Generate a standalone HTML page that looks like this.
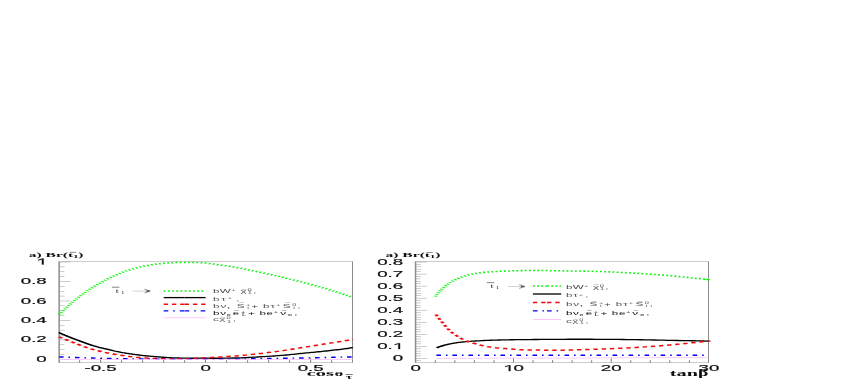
<!DOCTYPE html>
<html><head><meta charset="utf-8"><title>Branching ratios</title>
<style>html,body{margin:0;padding:0;background:#fff;}body{width:850px;height:382px;overflow:hidden;font-family:"Liberation Sans",sans-serif;}svg{display:block;}</style>
</head><body>
<svg width="850" height="382" viewBox="0 0 850 382">
<rect x="0" y="0" width="850" height="382" fill="#ffffff"/>
<defs><filter id="soft" x="0" y="230" width="850" height="152" filterUnits="userSpaceOnUse"><feGaussianBlur stdDeviation="0.42"/></filter></defs>
<g filter="url(#soft)">
<g transform="scale(2.2,1)">
<line x1="26.89" y1="261.30" x2="26.89" y2="362.80" stroke="#8c8c8c" stroke-width="0.68"/>
<line x1="160.23" y1="261.30" x2="160.23" y2="362.80" stroke="#505050" stroke-width="0.42"/>
<line x1="26.82" y1="261.60" x2="160.32" y2="261.60" stroke="#bdbdbd" stroke-width="0.8"/>
<line x1="26.82" y1="362.50" x2="160.32" y2="362.50" stroke="#999999" stroke-width="0.65"/>
<line x1="26.82" y1="359.40" x2="32.05" y2="359.40" stroke="#9a9a9a" stroke-width="0.5"/>
<line x1="26.82" y1="354.53" x2="29.32" y2="354.53" stroke="#9a9a9a" stroke-width="0.5"/>
<line x1="26.82" y1="349.66" x2="29.32" y2="349.66" stroke="#9a9a9a" stroke-width="0.5"/>
<line x1="26.82" y1="344.79" x2="29.32" y2="344.79" stroke="#9a9a9a" stroke-width="0.5"/>
<line x1="26.82" y1="339.92" x2="32.05" y2="339.92" stroke="#9a9a9a" stroke-width="0.5"/>
<line x1="26.82" y1="335.05" x2="29.32" y2="335.05" stroke="#9a9a9a" stroke-width="0.5"/>
<line x1="26.82" y1="330.18" x2="29.32" y2="330.18" stroke="#9a9a9a" stroke-width="0.5"/>
<line x1="26.82" y1="325.31" x2="29.32" y2="325.31" stroke="#9a9a9a" stroke-width="0.5"/>
<line x1="26.82" y1="320.44" x2="32.05" y2="320.44" stroke="#9a9a9a" stroke-width="0.5"/>
<line x1="26.82" y1="315.57" x2="29.32" y2="315.57" stroke="#9a9a9a" stroke-width="0.5"/>
<line x1="26.82" y1="310.70" x2="29.32" y2="310.70" stroke="#9a9a9a" stroke-width="0.5"/>
<line x1="26.82" y1="305.83" x2="29.32" y2="305.83" stroke="#9a9a9a" stroke-width="0.5"/>
<line x1="26.82" y1="300.96" x2="32.05" y2="300.96" stroke="#9a9a9a" stroke-width="0.5"/>
<line x1="26.82" y1="296.09" x2="29.32" y2="296.09" stroke="#9a9a9a" stroke-width="0.5"/>
<line x1="26.82" y1="291.22" x2="29.32" y2="291.22" stroke="#9a9a9a" stroke-width="0.5"/>
<line x1="26.82" y1="286.35" x2="29.32" y2="286.35" stroke="#9a9a9a" stroke-width="0.5"/>
<line x1="26.82" y1="281.48" x2="32.05" y2="281.48" stroke="#9a9a9a" stroke-width="0.5"/>
<line x1="26.82" y1="276.61" x2="29.32" y2="276.61" stroke="#9a9a9a" stroke-width="0.5"/>
<line x1="26.82" y1="271.74" x2="29.32" y2="271.74" stroke="#9a9a9a" stroke-width="0.5"/>
<line x1="26.82" y1="266.87" x2="29.32" y2="266.87" stroke="#9a9a9a" stroke-width="0.5"/>
<line x1="26.82" y1="262.00" x2="32.05" y2="262.00" stroke="#9a9a9a" stroke-width="0.5"/>
<line x1="36.18" y1="362.50" x2="36.18" y2="360.20" stroke="#3c3c3c" stroke-width="0.42"/>
<line x1="45.73" y1="362.50" x2="45.73" y2="358.10" stroke="#3c3c3c" stroke-width="0.42"/>
<line x1="55.27" y1="362.50" x2="55.27" y2="360.20" stroke="#3c3c3c" stroke-width="0.42"/>
<line x1="64.82" y1="362.50" x2="64.82" y2="360.20" stroke="#3c3c3c" stroke-width="0.42"/>
<line x1="74.36" y1="362.50" x2="74.36" y2="360.20" stroke="#3c3c3c" stroke-width="0.42"/>
<line x1="83.91" y1="362.50" x2="83.91" y2="360.20" stroke="#3c3c3c" stroke-width="0.42"/>
<line x1="93.45" y1="362.50" x2="93.45" y2="358.10" stroke="#3c3c3c" stroke-width="0.42"/>
<line x1="103.00" y1="362.50" x2="103.00" y2="360.20" stroke="#3c3c3c" stroke-width="0.42"/>
<line x1="112.55" y1="362.50" x2="112.55" y2="360.20" stroke="#3c3c3c" stroke-width="0.42"/>
<line x1="122.09" y1="362.50" x2="122.09" y2="360.20" stroke="#3c3c3c" stroke-width="0.42"/>
<line x1="131.64" y1="362.50" x2="131.64" y2="360.20" stroke="#3c3c3c" stroke-width="0.42"/>
<line x1="141.18" y1="362.50" x2="141.18" y2="358.10" stroke="#3c3c3c" stroke-width="0.42"/>
<line x1="150.73" y1="362.50" x2="150.73" y2="360.20" stroke="#3c3c3c" stroke-width="0.42"/>
<path d="M19.05 264.55 L19.84 264.55 L19.84 258.61 L19.21 258.61 L17.40 259.78 L17.40 260.52 L19.05 259.47 Z" fill="#111" stroke="#111" stroke-width="0.15"/>
<text transform="translate(21.23 284.03) scale(1.0227 1)" font-size="8.3" text-anchor="end" font-family="Liberation Sans, sans-serif" fill="#111111" font-weight="normal" stroke="#111" stroke-width="0.18">0.8</text>
<text transform="translate(21.23 303.51) scale(1.0227 1)" font-size="8.3" text-anchor="end" font-family="Liberation Sans, sans-serif" fill="#111111" font-weight="normal" stroke="#111" stroke-width="0.18">0.6</text>
<text transform="translate(21.23 322.99) scale(1.0227 1)" font-size="8.3" text-anchor="end" font-family="Liberation Sans, sans-serif" fill="#111111" font-weight="normal" stroke="#111" stroke-width="0.18">0.4</text>
<text transform="translate(21.23 342.47) scale(1.0227 1)" font-size="8.3" text-anchor="end" font-family="Liberation Sans, sans-serif" fill="#111111" font-weight="normal" stroke="#111" stroke-width="0.18">0.2</text>
<text transform="translate(21.23 361.95) scale(1.0227 1)" font-size="8.3" text-anchor="end" font-family="Liberation Sans, sans-serif" fill="#111111" font-weight="normal" stroke="#111" stroke-width="0.18">0</text>
<text transform="translate(45.73 371.10) scale(1.0227 1)" font-size="8.3" text-anchor="middle" font-family="Liberation Sans, sans-serif" fill="#111111" font-weight="normal" stroke="#111" stroke-width="0.18">-0.5</text>
<text transform="translate(93.45 371.10) scale(1.0227 1)" font-size="8.3" text-anchor="middle" font-family="Liberation Sans, sans-serif" fill="#111111" font-weight="normal" stroke="#111" stroke-width="0.18">0</text>
<text transform="translate(141.18 371.10) scale(1.0227 1)" font-size="8.3" text-anchor="middle" font-family="Liberation Sans, sans-serif" fill="#111111" font-weight="normal" stroke="#111" stroke-width="0.18">0.5</text>
<path d="M26.77 314.50 L26.93 314.19 L27.13 313.79 L27.37 313.33 L27.64 312.80 L27.94 312.21 L28.27 311.56 L28.62 310.85 L29.00 310.10 L29.41 309.27 L29.87 308.33 L30.37 307.32 L30.89 306.26 L31.42 305.18 L31.96 304.11 L32.49 303.08 L33.00 302.10 L33.50 301.17 L34.01 300.26 L34.52 299.37 L35.02 298.49 L35.53 297.62 L36.04 296.77 L36.54 295.93 L37.05 295.10 L37.55 294.28 L38.05 293.47 L38.55 292.68 L39.05 291.89 L39.55 291.12 L40.05 290.37 L40.55 289.63 L41.05 288.90 L41.55 288.19 L42.05 287.50 L42.55 286.82 L43.05 286.16 L43.55 285.51 L44.05 284.87 L44.55 284.23 L45.05 283.60 L45.55 282.97 L46.04 282.35 L46.54 281.73 L47.04 281.12 L47.54 280.52 L48.04 279.93 L48.54 279.36 L49.05 278.80 L49.55 278.26 L50.05 277.73 L50.56 277.22 L51.07 276.73 L51.58 276.24 L52.08 275.75 L52.59 275.28 L53.09 274.80 L53.59 274.32 L54.09 273.85 L54.59 273.38 L55.09 272.91 L55.59 272.46 L56.09 272.02 L56.59 271.60 L57.09 271.20 L57.59 270.83 L58.09 270.47 L58.59 270.14 L59.09 269.82 L59.59 269.51 L60.09 269.21 L60.59 268.90 L61.09 268.60 L61.59 268.29 L62.09 267.99 L62.59 267.68 L63.09 267.39 L63.59 267.10 L64.09 266.82 L64.59 266.55 L65.09 266.30 L65.59 266.06 L66.10 265.84 L66.61 265.62 L67.11 265.42 L67.62 265.23 L68.13 265.04 L68.63 264.87 L69.14 264.70 L69.64 264.54 L70.14 264.39 L70.64 264.25 L71.14 264.12 L71.64 264.00 L72.14 263.88 L72.64 263.76 L73.14 263.65 L73.64 263.54 L74.14 263.43 L74.64 263.33 L75.14 263.23 L75.64 263.14 L76.14 263.06 L76.64 262.97 L77.14 262.90 L77.64 262.83 L78.14 262.77 L78.64 262.71 L79.14 262.66 L79.64 262.61 L80.14 262.57 L80.64 262.53 L81.14 262.50 L81.64 262.47 L82.14 262.45 L82.63 262.43 L83.13 262.42 L83.63 262.41 L84.13 262.40 L84.63 262.40 L85.14 262.40 L85.64 262.40 L86.15 262.40 L86.65 262.41 L87.16 262.41 L87.67 262.42 L88.17 262.44 L88.68 262.47 L89.18 262.50 L89.68 262.54 L90.19 262.58 L90.69 262.63 L91.18 262.69 L91.68 262.75 L92.18 262.82 L92.68 262.91 L93.18 263.00 L93.68 263.11 L94.18 263.23 L94.68 263.36 L95.18 263.51 L95.68 263.65 L96.18 263.80 L96.68 263.95 L97.18 264.10 L97.68 264.24 L98.18 264.39 L98.68 264.54 L99.18 264.68 L99.68 264.83 L100.18 264.99 L100.68 265.14 L101.18 265.30 L101.69 265.46 L102.19 265.62 L102.70 265.79 L103.20 265.95 L103.71 266.12 L104.22 266.29 L104.72 266.47 L105.23 266.65 L105.73 266.83 L106.23 267.02 L106.73 267.21 L107.23 267.40 L107.73 267.59 L108.23 267.79 L108.73 267.99 L109.23 268.20 L109.73 268.41 L110.23 268.63 L110.73 268.86 L111.23 269.08 L111.73 269.31 L112.23 269.54 L112.73 269.77 L113.23 270.00 L113.73 270.22 L114.23 270.45 L114.73 270.67 L115.22 270.89 L115.72 271.12 L116.22 271.34 L116.73 271.57 L117.23 271.80 L117.73 272.03 L118.24 272.27 L118.74 272.50 L119.25 272.74 L119.76 272.98 L120.26 273.22 L120.77 273.46 L121.27 273.70 L121.77 273.94 L122.28 274.18 L122.78 274.42 L123.28 274.66 L123.77 274.90 L124.27 275.15 L124.77 275.40 L125.27 275.65 L125.77 275.91 L126.27 276.17 L126.77 276.44 L127.27 276.72 L127.77 276.99 L128.27 277.26 L128.77 277.53 L129.27 277.80 L129.77 278.06 L130.27 278.32 L130.77 278.58 L131.27 278.84 L131.77 279.10 L132.27 279.36 L132.77 279.63 L133.27 279.90 L133.78 280.18 L134.28 280.46 L134.79 280.75 L135.30 281.04 L135.80 281.33 L136.31 281.62 L136.81 281.91 L137.32 282.20 L137.82 282.49 L138.32 282.77 L138.82 283.06 L139.32 283.34 L139.82 283.63 L140.32 283.92 L140.82 284.21 L141.32 284.50 L141.82 284.79 L142.32 285.09 L142.82 285.39 L143.32 285.69 L143.82 285.99 L144.32 286.29 L144.82 286.59 L145.32 286.90 L145.82 287.21 L146.32 287.51 L146.82 287.82 L147.32 288.12 L147.82 288.44 L148.32 288.75 L148.82 289.07 L149.32 289.40 L149.82 289.73 L150.32 290.08 L150.82 290.42 L151.32 290.77 L151.81 291.13 L152.31 291.49 L152.82 291.84 L153.32 292.20 L153.83 292.56 L154.36 292.94 L154.89 293.32 L155.42 293.69 L155.94 294.07 L156.44 294.43 L156.92 294.78 L157.36 295.10 L157.79 295.42 L158.21 295.73 L158.62 296.04 L159.00 296.33 L159.36 296.60 L159.67 296.84 L159.93 297.04 L160.14 297.20" fill="none" stroke="#0cf50c" stroke-width="1.55" stroke-dasharray="0.85 1.05"/>
<path d="M26.77 332.60 L27.01 332.82 L27.32 333.12 L27.69 333.48 L28.10 333.87 L28.53 334.29 L28.98 334.71 L29.41 335.11 L29.82 335.49 L30.20 335.84 L30.58 336.18 L30.96 336.52 L31.35 336.85 L31.74 337.19 L32.14 337.54 L32.56 337.90 L33.00 338.27 L33.46 338.67 L33.95 339.08 L34.46 339.50 L34.97 339.93 L35.49 340.36 L36.02 340.79 L36.54 341.21 L37.05 341.62 L37.55 342.03 L38.05 342.44 L38.55 342.85 L39.05 343.25 L39.55 343.64 L40.05 344.03 L40.55 344.41 L41.05 344.77 L41.55 345.12 L42.05 345.46 L42.55 345.80 L43.05 346.12 L43.55 346.44 L44.05 346.74 L44.55 347.04 L45.05 347.34 L45.55 347.62 L46.04 347.89 L46.54 348.15 L47.04 348.40 L47.54 348.65 L48.04 348.90 L48.54 349.15 L49.05 349.40 L49.55 349.66 L50.05 349.93 L50.56 350.19 L51.07 350.46 L51.58 350.72 L52.08 350.98 L52.59 351.23 L53.09 351.47 L53.59 351.70 L54.09 351.93 L54.59 352.14 L55.09 352.36 L55.59 352.56 L56.09 352.76 L56.59 352.95 L57.09 353.14 L57.59 353.32 L58.09 353.49 L58.59 353.65 L59.09 353.81 L59.59 353.96 L60.09 354.11 L60.59 354.26 L61.09 354.41 L61.59 354.56 L62.09 354.71 L62.59 354.85 L63.09 355.00 L63.59 355.14 L64.09 355.28 L64.59 355.41 L65.09 355.54 L65.59 355.66 L66.10 355.77 L66.61 355.88 L67.11 355.98 L67.62 356.08 L68.13 356.18 L68.63 356.28 L69.14 356.38 L69.64 356.47 L70.14 356.57 L70.64 356.66 L71.14 356.75 L71.64 356.84 L72.14 356.93 L72.64 357.02 L73.14 357.10 L73.64 357.18 L74.14 357.27 L74.64 357.35 L75.14 357.43 L75.64 357.50 L76.14 357.57 L76.64 357.64 L77.14 357.70 L77.64 357.75 L78.14 357.80 L78.64 357.84 L79.14 357.87 L79.64 357.91 L80.14 357.94 L80.64 357.97 L81.14 358.00 L81.64 358.03 L82.14 358.06 L82.63 358.09 L83.13 358.12 L83.63 358.14 L84.13 358.17 L84.63 358.19 L85.14 358.20 L85.64 358.21 L86.15 358.22 L86.65 358.22 L87.16 358.22 L87.67 358.22 L88.17 358.21 L88.68 358.21 L89.18 358.20 L89.68 358.19 L90.18 358.18 L90.67 358.16 L91.17 358.14 L91.66 358.12 L92.16 358.11 L92.67 358.10 L93.18 358.10 L93.69 358.11 L94.18 358.13 L94.66 358.16 L95.16 358.19 L95.67 358.22 L96.22 358.25 L96.81 358.27 L97.45 358.28 L98.16 358.27 L98.93 358.26 L99.74 358.24 L100.59 358.22 L101.45 358.19 L102.31 358.16 L103.17 358.12 L104.00 358.09 L104.82 358.06 L105.64 358.02 L106.45 357.99 L107.27 357.95 L108.09 357.90 L108.91 357.85 L109.73 357.80 L110.55 357.73 L111.36 357.66 L112.18 357.57 L113.00 357.48 L113.82 357.39 L114.64 357.29 L115.45 357.18 L116.27 357.08 L117.09 356.98 L117.91 356.87 L118.73 356.77 L119.55 356.67 L120.36 356.56 L121.18 356.45 L122.00 356.34 L122.82 356.22 L123.64 356.10 L124.45 355.98 L125.27 355.85 L126.09 355.72 L126.91 355.59 L127.73 355.45 L128.55 355.31 L129.36 355.16 L130.18 355.00 L131.00 354.83 L131.82 354.65 L132.64 354.46 L133.45 354.27 L134.27 354.07 L135.09 353.88 L135.91 353.69 L136.73 353.50 L137.55 353.32 L138.36 353.15 L139.18 352.97 L140.00 352.80 L140.82 352.63 L141.64 352.45 L142.45 352.28 L143.27 352.10 L144.09 351.92 L144.91 351.74 L145.73 351.55 L146.55 351.37 L147.36 351.18 L148.18 350.99 L149.00 350.80 L149.82 350.60 L150.65 350.40 L151.51 350.18 L152.38 349.96 L153.24 349.74 L154.09 349.52 L154.90 349.31 L155.66 349.10 L156.36 348.90 L157.02 348.70 L157.65 348.50 L158.26 348.29 L158.82 348.09 L159.33 347.91 L159.78 347.74 L160.16 347.61 L160.45 347.50" fill="none" stroke="#000000" stroke-width="1.32"/>
<path d="M26.77 336.80 L27.01 337.01 L27.32 337.28 L27.69 337.60 L28.10 337.97 L28.53 338.35 L28.98 338.74 L29.41 339.12 L29.82 339.48 L30.20 339.82 L30.58 340.16 L30.96 340.49 L31.35 340.83 L31.74 341.17 L32.14 341.53 L32.56 341.89 L33.00 342.27 L33.46 342.67 L33.95 343.09 L34.46 343.52 L34.97 343.96 L35.49 344.40 L36.02 344.84 L36.54 345.27 L37.05 345.68 L37.55 346.08 L38.05 346.48 L38.55 346.87 L39.05 347.25 L39.55 347.63 L40.05 347.99 L40.55 348.35 L41.05 348.69 L41.55 349.01 L42.05 349.31 L42.55 349.60 L43.05 349.88 L43.55 350.16 L44.05 350.43 L44.55 350.70 L45.05 350.97 L45.55 351.24 L46.04 351.51 L46.54 351.79 L47.04 352.05 L47.54 352.32 L48.04 352.57 L48.54 352.82 L49.05 353.05 L49.55 353.27 L50.05 353.48 L50.56 353.68 L51.07 353.88 L51.58 354.07 L52.08 354.25 L52.59 354.43 L53.09 354.61 L53.59 354.79 L54.09 354.97 L54.59 355.13 L55.09 355.30 L55.59 355.46 L56.09 355.63 L56.59 355.78 L57.09 355.94 L57.59 356.10 L58.09 356.27 L58.59 356.43 L59.09 356.59 L59.59 356.75 L60.09 356.89 L60.59 357.03 L61.09 357.16 L61.59 357.27 L62.09 357.37 L62.59 357.45 L63.09 357.54 L63.59 357.61 L64.09 357.69 L64.59 357.76 L65.09 357.84 L65.59 357.91 L66.10 357.99 L66.61 358.07 L67.11 358.15 L67.62 358.22 L68.13 358.29 L68.63 358.35 L69.14 358.41 L69.64 358.46 L70.14 358.50 L70.64 358.54 L71.14 358.58 L71.64 358.61 L72.14 358.64 L72.64 358.67 L73.14 358.70 L73.64 358.73 L74.14 358.76 L74.64 358.79 L75.14 358.82 L75.64 358.84 L76.14 358.87 L76.64 358.89 L77.14 358.90 L77.64 358.91 L78.14 358.92 L78.64 358.92 L79.14 358.93 L79.64 358.92 L80.14 358.92 L80.64 358.91 L81.14 358.90 L81.64 358.89 L82.14 358.87 L82.63 358.85 L83.13 358.82 L83.63 358.79 L84.13 358.77 L84.63 358.73 L85.14 358.70 L85.64 358.66 L86.15 358.63 L86.65 358.59 L87.16 358.55 L87.67 358.50 L88.17 358.46 L88.68 358.40 L89.18 358.35 L89.68 358.29 L90.18 358.23 L90.67 358.16 L91.17 358.08 L91.66 358.01 L92.16 357.94 L92.67 357.87 L93.18 357.80 L93.69 357.74 L94.18 357.68 L94.66 357.63 L95.16 357.57 L95.67 357.51 L96.22 357.45 L96.81 357.38 L97.45 357.30 L98.16 357.21 L98.93 357.11 L99.74 357.00 L100.59 356.89 L101.45 356.77 L102.31 356.65 L103.17 356.52 L104.00 356.40 L104.82 356.27 L105.64 356.15 L106.45 356.02 L107.27 355.89 L108.09 355.75 L108.91 355.61 L109.73 355.46 L110.55 355.30 L111.36 355.13 L112.18 354.96 L113.00 354.78 L113.82 354.59 L114.64 354.39 L115.45 354.20 L116.27 354.00 L117.09 353.80 L117.91 353.60 L118.73 353.40 L119.55 353.19 L120.36 352.98 L121.18 352.77 L122.00 352.55 L122.82 352.33 L123.64 352.10 L124.45 351.87 L125.27 351.63 L126.09 351.39 L126.91 351.14 L127.73 350.89 L128.55 350.63 L129.36 350.37 L130.18 350.10 L131.00 349.83 L131.82 349.55 L132.64 349.26 L133.45 348.97 L134.27 348.68 L135.09 348.38 L135.91 348.09 L136.73 347.80 L137.55 347.51 L138.36 347.23 L139.18 346.94 L140.00 346.65 L140.82 346.36 L141.64 346.07 L142.45 345.79 L143.27 345.50 L144.09 345.21 L144.91 344.93 L145.73 344.64 L146.55 344.35 L147.36 344.06 L148.18 343.77 L149.00 343.49 L149.82 343.20 L150.65 342.91 L151.51 342.61 L152.38 342.30 L153.24 342.00 L154.09 341.70 L154.90 341.42 L155.66 341.15 L156.36 340.90 L157.02 340.66 L157.65 340.43 L158.26 340.21 L158.82 340.01 L159.33 339.82 L159.78 339.65 L160.16 339.51 L160.45 339.40" fill="none" stroke="#ee1111" stroke-width="1.5" stroke-dasharray="2.0 1.75"/>
<path d="M26.82 356.90 L27.66 356.97 L28.74 357.06 L30.03 357.17 L31.48 357.29 L33.05 357.42 L34.72 357.55 L36.44 357.68 L38.18 357.80 L39.98 357.92 L41.88 358.04 L43.87 358.16 L45.94 358.28 L48.06 358.40 L50.21 358.51 L52.38 358.61 L54.55 358.70 L56.73 358.78 L58.96 358.84 L61.23 358.90 L63.52 358.95 L65.83 358.99 L68.14 359.03 L70.44 359.07 L72.73 359.10 L75.00 359.13 L77.27 359.16 L79.55 359.18 L81.82 359.19 L84.09 359.20 L86.36 359.21 L88.64 359.21 L90.91 359.20 L93.15 359.18 L95.35 359.16 L97.53 359.13 L99.72 359.10 L101.94 359.06 L104.23 359.01 L106.60 358.96 L109.09 358.90 L111.75 358.83 L114.56 358.76 L117.48 358.67 L120.45 358.58 L123.43 358.49 L126.35 358.39 L129.16 358.30 L131.82 358.20 L134.36 358.10 L136.87 358.00 L139.32 357.89 L141.70 357.79 L143.97 357.68 L146.13 357.58 L148.14 357.49 L150.00 357.40 L151.72 357.32 L153.34 357.24 L154.84 357.17 L156.20 357.10 L157.43 357.04 L158.50 356.98 L159.41 356.94 L160.14 356.90" fill="none" stroke="#0505f0" stroke-width="1.4" stroke-dasharray="2.1 2.23 0.72 2.23"/>
<path d="M26.82 359.60 L160.32 359.60" fill="none" stroke="#ffbcff" stroke-width="0.8"/>
<line x1="188.89" y1="261.30" x2="188.89" y2="362.80" stroke="#8c8c8c" stroke-width="0.68"/>
<line x1="322.05" y1="261.30" x2="322.05" y2="362.80" stroke="#505050" stroke-width="0.42"/>
<line x1="188.82" y1="261.60" x2="322.14" y2="261.60" stroke="#bdbdbd" stroke-width="0.8"/>
<line x1="188.82" y1="362.50" x2="322.14" y2="362.50" stroke="#999999" stroke-width="0.65"/>
<line x1="188.82" y1="360.71" x2="191.32" y2="360.71" stroke="#9a9a9a" stroke-width="0.5"/>
<line x1="188.82" y1="358.30" x2="194.05" y2="358.30" stroke="#9a9a9a" stroke-width="0.5"/>
<line x1="188.82" y1="355.89" x2="191.32" y2="355.89" stroke="#9a9a9a" stroke-width="0.5"/>
<line x1="188.82" y1="353.49" x2="191.32" y2="353.49" stroke="#9a9a9a" stroke-width="0.5"/>
<line x1="188.82" y1="351.08" x2="191.32" y2="351.08" stroke="#9a9a9a" stroke-width="0.5"/>
<line x1="188.82" y1="348.68" x2="191.32" y2="348.68" stroke="#9a9a9a" stroke-width="0.5"/>
<line x1="188.82" y1="346.27" x2="194.05" y2="346.27" stroke="#9a9a9a" stroke-width="0.5"/>
<line x1="188.82" y1="343.86" x2="191.32" y2="343.86" stroke="#9a9a9a" stroke-width="0.5"/>
<line x1="188.82" y1="341.46" x2="191.32" y2="341.46" stroke="#9a9a9a" stroke-width="0.5"/>
<line x1="188.82" y1="339.05" x2="191.32" y2="339.05" stroke="#9a9a9a" stroke-width="0.5"/>
<line x1="188.82" y1="336.65" x2="191.32" y2="336.65" stroke="#9a9a9a" stroke-width="0.5"/>
<line x1="188.82" y1="334.24" x2="194.05" y2="334.24" stroke="#9a9a9a" stroke-width="0.5"/>
<line x1="188.82" y1="331.83" x2="191.32" y2="331.83" stroke="#9a9a9a" stroke-width="0.5"/>
<line x1="188.82" y1="329.43" x2="191.32" y2="329.43" stroke="#9a9a9a" stroke-width="0.5"/>
<line x1="188.82" y1="327.02" x2="191.32" y2="327.02" stroke="#9a9a9a" stroke-width="0.5"/>
<line x1="188.82" y1="324.62" x2="191.32" y2="324.62" stroke="#9a9a9a" stroke-width="0.5"/>
<line x1="188.82" y1="322.21" x2="194.05" y2="322.21" stroke="#9a9a9a" stroke-width="0.5"/>
<line x1="188.82" y1="319.80" x2="191.32" y2="319.80" stroke="#9a9a9a" stroke-width="0.5"/>
<line x1="188.82" y1="317.40" x2="191.32" y2="317.40" stroke="#9a9a9a" stroke-width="0.5"/>
<line x1="188.82" y1="314.99" x2="191.32" y2="314.99" stroke="#9a9a9a" stroke-width="0.5"/>
<line x1="188.82" y1="312.59" x2="191.32" y2="312.59" stroke="#9a9a9a" stroke-width="0.5"/>
<line x1="188.82" y1="310.18" x2="194.05" y2="310.18" stroke="#9a9a9a" stroke-width="0.5"/>
<line x1="188.82" y1="307.77" x2="191.32" y2="307.77" stroke="#9a9a9a" stroke-width="0.5"/>
<line x1="188.82" y1="305.37" x2="191.32" y2="305.37" stroke="#9a9a9a" stroke-width="0.5"/>
<line x1="188.82" y1="302.96" x2="191.32" y2="302.96" stroke="#9a9a9a" stroke-width="0.5"/>
<line x1="188.82" y1="300.56" x2="191.32" y2="300.56" stroke="#9a9a9a" stroke-width="0.5"/>
<line x1="188.82" y1="298.15" x2="194.05" y2="298.15" stroke="#9a9a9a" stroke-width="0.5"/>
<line x1="188.82" y1="295.74" x2="191.32" y2="295.74" stroke="#9a9a9a" stroke-width="0.5"/>
<line x1="188.82" y1="293.34" x2="191.32" y2="293.34" stroke="#9a9a9a" stroke-width="0.5"/>
<line x1="188.82" y1="290.93" x2="191.32" y2="290.93" stroke="#9a9a9a" stroke-width="0.5"/>
<line x1="188.82" y1="288.53" x2="191.32" y2="288.53" stroke="#9a9a9a" stroke-width="0.5"/>
<line x1="188.82" y1="286.12" x2="194.05" y2="286.12" stroke="#9a9a9a" stroke-width="0.5"/>
<line x1="188.82" y1="283.71" x2="191.32" y2="283.71" stroke="#9a9a9a" stroke-width="0.5"/>
<line x1="188.82" y1="281.31" x2="191.32" y2="281.31" stroke="#9a9a9a" stroke-width="0.5"/>
<line x1="188.82" y1="278.90" x2="191.32" y2="278.90" stroke="#9a9a9a" stroke-width="0.5"/>
<line x1="188.82" y1="276.50" x2="191.32" y2="276.50" stroke="#9a9a9a" stroke-width="0.5"/>
<line x1="188.82" y1="274.09" x2="194.05" y2="274.09" stroke="#9a9a9a" stroke-width="0.5"/>
<line x1="188.82" y1="271.68" x2="191.32" y2="271.68" stroke="#9a9a9a" stroke-width="0.5"/>
<line x1="188.82" y1="269.28" x2="191.32" y2="269.28" stroke="#9a9a9a" stroke-width="0.5"/>
<line x1="188.82" y1="266.87" x2="191.32" y2="266.87" stroke="#9a9a9a" stroke-width="0.5"/>
<line x1="188.82" y1="264.47" x2="191.32" y2="264.47" stroke="#9a9a9a" stroke-width="0.5"/>
<line x1="188.82" y1="262.06" x2="194.05" y2="262.06" stroke="#9a9a9a" stroke-width="0.5"/>
<line x1="197.88" y1="362.50" x2="197.88" y2="360.20" stroke="#3c3c3c" stroke-width="0.42"/>
<line x1="206.76" y1="362.50" x2="206.76" y2="360.20" stroke="#3c3c3c" stroke-width="0.42"/>
<line x1="215.65" y1="362.50" x2="215.65" y2="360.20" stroke="#3c3c3c" stroke-width="0.42"/>
<line x1="224.53" y1="362.50" x2="224.53" y2="360.20" stroke="#3c3c3c" stroke-width="0.42"/>
<line x1="233.41" y1="362.50" x2="233.41" y2="358.10" stroke="#3c3c3c" stroke-width="0.42"/>
<line x1="242.29" y1="362.50" x2="242.29" y2="360.20" stroke="#3c3c3c" stroke-width="0.42"/>
<line x1="251.17" y1="362.50" x2="251.17" y2="360.20" stroke="#3c3c3c" stroke-width="0.42"/>
<line x1="260.05" y1="362.50" x2="260.05" y2="360.20" stroke="#3c3c3c" stroke-width="0.42"/>
<line x1="268.94" y1="362.50" x2="268.94" y2="360.20" stroke="#3c3c3c" stroke-width="0.42"/>
<line x1="277.82" y1="362.50" x2="277.82" y2="358.10" stroke="#3c3c3c" stroke-width="0.42"/>
<line x1="286.70" y1="362.50" x2="286.70" y2="360.20" stroke="#3c3c3c" stroke-width="0.42"/>
<line x1="295.58" y1="362.50" x2="295.58" y2="360.20" stroke="#3c3c3c" stroke-width="0.42"/>
<line x1="304.46" y1="362.50" x2="304.46" y2="360.20" stroke="#3c3c3c" stroke-width="0.42"/>
<line x1="313.35" y1="362.50" x2="313.35" y2="360.20" stroke="#3c3c3c" stroke-width="0.42"/>
<text transform="translate(183.23 264.91) scale(1.0227 1)" font-size="8.3" text-anchor="end" font-family="Liberation Sans, sans-serif" fill="#111111" font-weight="normal" stroke="#111" stroke-width="0.18">0.8</text>
<text transform="translate(183.23 276.94) scale(1.0227 1)" font-size="8.3" text-anchor="end" font-family="Liberation Sans, sans-serif" fill="#111111" font-weight="normal" stroke="#111" stroke-width="0.18">0.7</text>
<text transform="translate(183.23 288.97) scale(1.0227 1)" font-size="8.3" text-anchor="end" font-family="Liberation Sans, sans-serif" fill="#111111" font-weight="normal" stroke="#111" stroke-width="0.18">0.6</text>
<text transform="translate(183.23 301.00) scale(1.0227 1)" font-size="8.3" text-anchor="end" font-family="Liberation Sans, sans-serif" fill="#111111" font-weight="normal" stroke="#111" stroke-width="0.18">0.5</text>
<text transform="translate(183.23 313.03) scale(1.0227 1)" font-size="8.3" text-anchor="end" font-family="Liberation Sans, sans-serif" fill="#111111" font-weight="normal" stroke="#111" stroke-width="0.18">0.4</text>
<text transform="translate(183.23 325.06) scale(1.0227 1)" font-size="8.3" text-anchor="end" font-family="Liberation Sans, sans-serif" fill="#111111" font-weight="normal" stroke="#111" stroke-width="0.18">0.3</text>
<text transform="translate(183.23 337.09) scale(1.0227 1)" font-size="8.3" text-anchor="end" font-family="Liberation Sans, sans-serif" fill="#111111" font-weight="normal" stroke="#111" stroke-width="0.18">0.2</text>
<text transform="translate(171.43 349.12) scale(1.0227 1)" font-size="8.3" text-anchor="start" font-family="Liberation Sans, sans-serif" fill="#111111" font-weight="normal" stroke="#111" stroke-width="0.18">0.</text>
<path d="M181.05 349.12 L181.84 349.12 L181.84 343.18 L181.21 343.18 L179.40 344.35 L179.40 345.09 L181.05 344.04 Z" fill="#111" stroke="#111" stroke-width="0.15"/>
<text transform="translate(183.23 361.15) scale(1.0227 1)" font-size="8.3" text-anchor="end" font-family="Liberation Sans, sans-serif" fill="#111111" font-weight="normal" stroke="#111" stroke-width="0.18">0</text>
<text transform="translate(189.00 371.10) scale(1.0227 1)" font-size="8.3" text-anchor="middle" font-family="Liberation Sans, sans-serif" fill="#111111" font-weight="normal" stroke="#111" stroke-width="0.18">0</text>
<path d="M231.24 371.10 L232.02 371.10 L232.02 365.16 L231.39 365.16 L229.58 366.33 L229.58 367.07 L231.24 366.02 Z" fill="#111" stroke="#111" stroke-width="0.15"/>
<text transform="translate(233.41 371.10) scale(1.0227 1)" font-size="8.3" text-anchor="start" font-family="Liberation Sans, sans-serif" fill="#111111" font-weight="normal" stroke="#111" stroke-width="0.18">0</text>
<text transform="translate(277.82 371.10) scale(1.0227 1)" font-size="8.3" text-anchor="middle" font-family="Liberation Sans, sans-serif" fill="#111111" font-weight="normal" stroke="#111" stroke-width="0.18">20</text>
<text transform="translate(322.23 371.10) scale(1.0227 1)" font-size="8.3" text-anchor="middle" font-family="Liberation Sans, sans-serif" fill="#111111" font-weight="normal" stroke="#111" stroke-width="0.18">30</text>
<path d="M197.82 296.60 L197.91 296.35 L198.04 296.02 L198.19 295.62 L198.36 295.18 L198.53 294.72 L198.71 294.25 L198.89 293.81 L199.05 293.40 L199.19 293.03 L199.32 292.69 L199.44 292.37 L199.57 292.04 L199.70 291.70 L199.85 291.34 L200.02 290.94 L200.23 290.50 L200.47 290.00 L200.74 289.45 L201.03 288.86 L201.34 288.26 L201.65 287.64 L201.97 287.03 L202.29 286.45 L202.59 285.90 L202.89 285.38 L203.18 284.87 L203.48 284.37 L203.77 283.89 L204.06 283.42 L204.36 282.96 L204.66 282.52 L204.95 282.10 L205.25 281.70 L205.55 281.31 L205.86 280.95 L206.16 280.59 L206.46 280.25 L206.76 279.93 L207.06 279.61 L207.36 279.30 L207.66 279.00 L207.96 278.72 L208.25 278.45 L208.55 278.19 L208.84 277.93 L209.14 277.69 L209.43 277.44 L209.73 277.20 L210.02 276.96 L210.32 276.72 L210.61 276.48 L210.91 276.25 L211.20 276.03 L211.50 275.81 L211.79 275.60 L212.09 275.40 L212.39 275.21 L212.69 275.03 L212.99 274.86 L213.30 274.69 L213.60 274.54 L213.90 274.39 L214.20 274.24 L214.50 274.10 L214.80 273.97 L215.09 273.84 L215.39 273.72 L215.68 273.61 L215.98 273.51 L216.27 273.40 L216.57 273.30 L216.86 273.20 L217.16 273.10 L217.46 273.01 L217.77 272.91 L218.07 272.82 L218.37 272.74 L218.67 272.65 L218.97 272.57 L219.27 272.50 L219.57 272.43 L219.87 272.37 L220.16 272.31 L220.46 272.25 L220.75 272.20 L221.05 272.15 L221.34 272.10 L221.64 272.05 L221.93 272.00 L222.23 271.95 L222.52 271.91 L222.82 271.87 L223.11 271.82 L223.41 271.78 L223.70 271.74 L224.00 271.70 L224.30 271.66 L224.60 271.62 L224.90 271.58 L225.20 271.54 L225.51 271.50 L225.81 271.47 L226.11 271.43 L226.41 271.40 L226.70 271.37 L226.99 271.35 L227.27 271.32 L227.55 271.30 L227.84 271.28 L228.13 271.25 L228.44 271.23 L228.77 271.20 L229.10 271.17 L229.41 271.13 L229.73 271.09 L230.06 271.06 L230.42 271.02 L230.82 270.98 L231.28 270.94 L231.82 270.90 L232.43 270.86 L233.10 270.82 L233.83 270.78 L234.61 270.74 L235.42 270.70 L236.25 270.66 L237.10 270.63 L237.95 270.60 L238.82 270.58 L239.70 270.55 L240.60 270.53 L241.52 270.51 L242.47 270.50 L243.44 270.49 L244.43 270.49 L245.45 270.50 L246.47 270.52 L247.45 270.54 L248.43 270.57 L249.45 270.61 L250.54 270.65 L251.73 270.69 L253.05 270.75 L254.55 270.80 L256.24 270.85 L258.12 270.91 L260.14 270.96 L262.26 271.02 L264.43 271.09 L266.62 271.17 L268.78 271.28 L270.86 271.40 L272.90 271.55 L274.93 271.71 L276.97 271.89 L279.00 272.08 L281.03 272.29 L283.07 272.51 L285.10 272.75 L287.14 273.00 L289.17 273.26 L291.21 273.54 L293.25 273.82 L295.29 274.12 L297.33 274.44 L299.37 274.78 L301.41 275.13 L303.45 275.50 L305.59 275.92 L307.87 276.39 L310.21 276.90 L312.52 277.42 L314.72 277.92 L316.71 278.39 L318.43 278.79 L319.77 279.10 L320.71 279.32 L321.29 279.48 L321.60 279.57 L321.70 279.63 L321.68 279.65 L321.60 279.66 L321.55 279.67 L321.59 279.70" fill="none" stroke="#0cf50c" stroke-width="1.55" stroke-dasharray="0.85 1.05"/>
<path d="M198.41 347.80 L198.64 347.63 L198.95 347.39 L199.32 347.11 L199.72 346.80 L200.16 346.48 L200.59 346.16 L201.02 345.86 L201.41 345.60 L201.78 345.37 L202.15 345.15 L202.52 344.94 L202.89 344.74 L203.25 344.54 L203.62 344.36 L203.99 344.18 L204.36 344.00 L204.74 343.83 L205.11 343.66 L205.49 343.50 L205.86 343.35 L206.24 343.20 L206.62 343.06 L206.99 342.93 L207.36 342.80 L207.73 342.68 L208.10 342.57 L208.47 342.46 L208.84 342.36 L209.21 342.27 L209.58 342.18 L209.95 342.09 L210.32 342.00 L210.67 341.92 L211.00 341.84 L211.31 341.77 L211.63 341.70 L211.97 341.63 L212.36 341.56 L212.80 341.48 L213.32 341.40 L213.92 341.31 L214.60 341.21 L215.34 341.10 L216.11 340.99 L216.91 340.89 L217.72 340.78 L218.51 340.69 L219.27 340.60 L220.01 340.52 L220.75 340.45 L221.49 340.38 L222.23 340.32 L222.96 340.26 L223.70 340.20 L224.44 340.15 L225.18 340.10 L225.90 340.05 L226.58 340.01 L227.24 339.97 L227.92 339.93 L228.62 339.90 L229.38 339.87 L230.21 339.83 L231.14 339.80 L232.15 339.77 L233.22 339.73 L234.35 339.70 L235.54 339.67 L236.79 339.64 L238.10 339.61 L239.48 339.58 L240.91 339.55 L242.41 339.52 L243.98 339.48 L245.62 339.45 L247.32 339.41 L249.07 339.38 L250.86 339.34 L252.69 339.32 L254.55 339.30 L256.46 339.29 L258.44 339.28 L260.47 339.27 L262.54 339.27 L264.63 339.27 L266.72 339.27 L268.81 339.28 L270.86 339.30 L272.90 339.32 L274.93 339.34 L276.97 339.37 L279.00 339.41 L281.03 339.45 L283.07 339.49 L285.10 339.54 L287.14 339.60 L289.17 339.67 L291.21 339.75 L293.25 339.83 L295.29 339.93 L297.33 340.02 L299.37 340.12 L301.41 340.21 L303.45 340.30 L305.59 340.39 L307.87 340.49 L310.21 340.58 L312.52 340.68 L314.72 340.77 L316.71 340.86 L318.43 340.94 L319.77 341.00 L320.71 341.05 L321.29 341.09 L321.60 341.12 L321.70 341.14 L321.68 341.16 L321.60 341.18 L321.55 341.19 L321.59 341.20" fill="none" stroke="#000000" stroke-width="1.32"/>
<path d="M198.14 314.40 L198.25 314.73 L198.40 315.17 L198.58 315.68 L198.78 316.26 L198.99 316.88 L199.21 317.50 L199.43 318.12 L199.64 318.70 L199.84 319.24 L200.03 319.77 L200.23 320.29 L200.43 320.82 L200.65 321.37 L200.88 321.96 L201.13 322.60 L201.41 323.30 L201.72 324.09 L202.06 324.97 L202.43 325.91 L202.81 326.88 L203.20 327.85 L203.59 328.80 L203.98 329.69 L204.36 330.50 L204.74 331.23 L205.11 331.91 L205.49 332.55 L205.86 333.16 L206.24 333.74 L206.62 334.30 L206.99 334.85 L207.36 335.40 L207.73 335.94 L208.10 336.48 L208.47 336.99 L208.84 337.49 L209.21 337.98 L209.58 338.44 L209.95 338.88 L210.32 339.30 L210.69 339.69 L211.07 340.06 L211.44 340.40 L211.82 340.72 L212.19 341.03 L212.57 341.32 L212.95 341.61 L213.32 341.90 L213.69 342.18 L214.06 342.45 L214.43 342.71 L214.80 342.96 L215.16 343.20 L215.53 343.44 L215.90 343.67 L216.27 343.90 L216.65 344.13 L217.02 344.36 L217.40 344.58 L217.77 344.79 L218.15 345.00 L218.52 345.21 L218.90 345.41 L219.27 345.60 L219.64 345.78 L220.01 345.96 L220.38 346.13 L220.75 346.30 L221.12 346.46 L221.49 346.61 L221.86 346.76 L222.23 346.90 L222.58 347.03 L222.90 347.15 L223.20 347.26 L223.52 347.37 L223.85 347.47 L224.23 347.57 L224.67 347.68 L225.18 347.80 L225.78 347.92 L226.46 348.05 L227.20 348.19 L227.97 348.32 L228.77 348.46 L229.58 348.59 L230.37 348.72 L231.14 348.85 L231.90 348.98 L232.68 349.11 L233.46 349.25 L234.25 349.38 L235.01 349.50 L235.75 349.62 L236.45 349.72 L237.09 349.80 L237.67 349.86 L238.18 349.91 L238.65 349.93 L239.09 349.95 L239.52 349.97 L239.95 349.97 L240.41 349.98 L240.91 350.00 L241.41 350.02 L241.89 350.03 L242.36 350.04 L242.85 350.06 L243.39 350.07 L243.98 350.08 L244.66 350.09 L245.45 350.10 L246.32 350.12 L247.24 350.15 L248.21 350.19 L249.26 350.22 L250.41 350.24 L251.66 350.25 L253.03 350.24 L254.55 350.20 L256.24 350.13 L258.12 350.04 L260.14 349.93 L262.26 349.80 L264.43 349.66 L266.62 349.51 L268.78 349.36 L270.86 349.20 L272.90 349.04 L274.93 348.88 L276.97 348.72 L279.00 348.54 L281.03 348.36 L283.07 348.16 L285.10 347.94 L287.14 347.70 L289.17 347.44 L291.21 347.17 L293.25 346.88 L295.29 346.58 L297.33 346.26 L299.37 345.93 L301.41 345.57 L303.45 345.20 L305.59 344.78 L307.87 344.30 L310.21 343.79 L312.52 343.28 L314.72 342.77 L316.71 342.31 L318.43 341.91 L319.77 341.60 L320.71 341.39 L321.29 341.25 L321.60 341.16 L321.70 341.12 L321.68 341.11 L321.60 341.12 L321.55 341.12 L321.59 341.10" fill="none" stroke="#ee1111" stroke-width="1.5" stroke-dasharray="2.0 1.75"/>
<path d="M198.36 355.20 L321.45 355.20" fill="none" stroke="#0505f0" stroke-width="1.4" stroke-dasharray="2.1 2.23 0.72 2.23"/>
<path d="M198.36 358.30 L254.55 358.10 L321.45 357.40" fill="none" stroke="#ffbcff" stroke-width="0.8"/>
<path d="M74.41 291.00 L83.93 291.00" fill="none" stroke="#0cf50c" stroke-width="1.55" stroke-dasharray="0.85 1.05"/>
<path d="M83.93 291.00 L93.45 291.00" fill="none" stroke="#0cf50c" stroke-width="1.55" stroke-dasharray="0.85 1.05"/>
<path d="M74.41 297.60 L83.93 297.60" fill="none" stroke="#000000" stroke-width="1.32"/>
<path d="M83.93 297.60 L93.45 297.60" fill="none" stroke="#000000" stroke-width="1.32"/>
<path d="M74.41 304.30 L83.93 304.30" fill="none" stroke="#ee1111" stroke-width="1.5" stroke-dasharray="2.0 1.75"/>
<path d="M83.93 304.30 L93.45 304.30" fill="none" stroke="#ee1111" stroke-width="1.5" stroke-dasharray="2.0 1.75"/>
<path d="M74.41 310.90 L83.93 310.90" fill="none" stroke="#0505f0" stroke-width="1.4" stroke-dasharray="2.1 2.23 0.72 2.23"/>
<path d="M83.93 310.90 L93.45 310.90" fill="none" stroke="#0505f0" stroke-width="1.4" stroke-dasharray="2.1 2.23 0.72 2.23"/>
<path d="M74.41 317.80 L83.93 317.80" fill="none" stroke="#ffbcff" stroke-width="0.8"/>
<path d="M83.93 317.80 L93.45 317.80" fill="none" stroke="#ffbcff" stroke-width="0.8"/>
<text x="52.45" y="293.00" font-size="5.6" font-family="Liberation Serif, serif" fill="#444">t<tspan font-size="3.6" dx="0.9" dy="0.9">1</tspan></text>
<line x1="50.91" y1="287.20" x2="54.27" y2="287.20" stroke="#555" stroke-width="0.45"/>
<line x1="60.23" y1="291.10" x2="67.82" y2="291.10" stroke="#c4c4c4" stroke-width="0.45"/>
<path d="M65.73 289.30 L68.27 291.10 L65.73 292.90" fill="none" stroke="#555" stroke-width="0.45"/>
<path d="M66.64 290.30 L68.41 291.10 L66.64 291.90 Z" fill="#444"/>
<text x="96.82" y="293.30" font-size="5.3" font-family="Liberation Sans, sans-serif" fill="#4a4a4a" textLength="19.77" lengthAdjust="spacing">bW<tspan font-size="3.4" dy="-1.9">+</tspan><tspan font-size="3.4" dy="1.9"> </tspan> χ<tspan dx="-2.6" dy="-2.5" font-size="4.2">~</tspan><tspan dy="2.5" font-size="1"> </tspan><tspan font-size="3.4" dy="-2.0">0</tspan><tspan font-size="3.4" dy="3.2" dx="-1.9">1</tspan><tspan font-size="3.4" dy="-1.2"> </tspan>,</text>
<text x="96.82" y="300.60" font-size="5.3" font-family="Liberation Sans, sans-serif" fill="#555" textLength="12.05" lengthAdjust="spacing">bτ<tspan font-size="3.4" dy="-1.9">+</tspan><tspan font-size="3.4" dy="1.9"> </tspan>,</text>
<text x="96.82" y="307.80" font-size="5.3" font-family="Liberation Sans, sans-serif" fill="#505050" textLength="39.77" lengthAdjust="spacing">bν<tspan font-size="3.4" dy="0.8">τ</tspan><tspan font-size="3.4" dy="-0.8"> </tspan>  S<tspan dx="-3.0" dy="-3.3" font-size="4.2">~</tspan><tspan dy="3.3" font-size="1"> </tspan><tspan font-size="3.4" dy="-2.0">+</tspan><tspan font-size="3.4" dy="3.2" dx="-1.9">i</tspan><tspan font-size="3.4" dy="-1.2"> </tspan>+ bτ<tspan font-size="3.4" dy="-1.9">+</tspan><tspan font-size="3.4" dy="1.9"> </tspan>S<tspan dx="-3.0" dy="-3.3" font-size="4.2">~</tspan><tspan dy="3.3" font-size="1"> </tspan><tspan font-size="3.4" dy="-2.0">0</tspan><tspan font-size="3.4" dy="3.2" dx="-1.9">i</tspan><tspan font-size="3.4" dy="-1.2"> </tspan>,</text>
<text x="96.82" y="315.00" font-size="5.3" font-family="Liberation Sans, sans-serif" fill="#111" textLength="38.41" lengthAdjust="spacing">bν<tspan font-size="3.4" dy="0.8">e</tspan><tspan font-size="3.4" dy="-0.8"> </tspan>e<tspan dx="-2.7" dy="-2.5" font-size="4.2">~</tspan><tspan dy="2.5" font-size="1"> </tspan><tspan font-size="3.4" dy="-2.0">+</tspan><tspan font-size="3.4" dy="3.2" dx="-1.9">L</tspan><tspan font-size="3.4" dy="-1.2"> </tspan>+ be<tspan font-size="3.4" dy="-1.9">+</tspan><tspan font-size="3.4" dy="1.9"> </tspan>ν<tspan dx="-2.5" dy="-2.5" font-size="4.2">~</tspan><tspan dy="2.5" font-size="1"> </tspan><tspan font-size="3.4" dy="0.8">e</tspan><tspan font-size="3.4" dy="-0.8"> </tspan>,</text>
<text x="96.82" y="321.50" font-size="5.3" font-family="Liberation Sans, sans-serif" fill="#5a5a5a" textLength="10.45" lengthAdjust="spacing">cχ<tspan dx="-2.6" dy="-2.5" font-size="4.2">~</tspan><tspan dy="2.5" font-size="1"> </tspan><tspan font-size="3.4" dy="-2.0">0</tspan><tspan font-size="3.4" dy="3.2" dx="-1.9">1</tspan><tspan font-size="3.4" dy="-1.2"> </tspan>,</text>
<path d="M242.23 286.00 L248.66 286.00" fill="none" stroke="#0cf50c" stroke-width="1.55" stroke-dasharray="0.85 1.05"/>
<path d="M248.66 286.00 L255.09 286.00" fill="none" stroke="#0cf50c" stroke-width="1.55" stroke-dasharray="0.85 1.05"/>
<path d="M242.23 294.00 L248.66 294.00" fill="none" stroke="#000000" stroke-width="1.32"/>
<path d="M248.66 294.00 L255.09 294.00" fill="none" stroke="#000000" stroke-width="1.32"/>
<path d="M242.23 302.50 L248.66 302.50" fill="none" stroke="#ee1111" stroke-width="1.5" stroke-dasharray="2.0 1.75"/>
<path d="M248.66 302.50 L255.09 302.50" fill="none" stroke="#ee1111" stroke-width="1.5" stroke-dasharray="2.0 1.75"/>
<path d="M242.23 310.90 L248.66 310.90" fill="none" stroke="#0505f0" stroke-width="1.4" stroke-dasharray="2.1 2.23 0.72 2.23"/>
<path d="M248.66 310.90 L255.09 310.90" fill="none" stroke="#0505f0" stroke-width="1.4" stroke-dasharray="2.1 2.23 0.72 2.23"/>
<path d="M242.23 319.40 L248.66 319.40" fill="none" stroke="#ffbcff" stroke-width="0.8"/>
<path d="M248.66 319.40 L255.09 319.40" fill="none" stroke="#ffbcff" stroke-width="0.8"/>
<text x="222.82" y="288.40" font-size="5.6" font-family="Liberation Serif, serif" fill="#444">t<tspan font-size="3.6" dx="0.9" dy="0.9">1</tspan></text>
<line x1="221.27" y1="282.60" x2="224.64" y2="282.60" stroke="#555" stroke-width="0.45"/>
<line x1="230.82" y1="286.50" x2="238.14" y2="286.50" stroke="#c4c4c4" stroke-width="0.45"/>
<path d="M236.05 284.70 L238.59 286.50 L236.05 288.30" fill="none" stroke="#555" stroke-width="0.45"/>
<path d="M236.95 285.70 L238.73 286.50 L236.95 287.30 Z" fill="#444"/>
<text x="257.27" y="288.60" font-size="5.3" font-family="Liberation Sans, sans-serif" fill="#4a4a4a" textLength="19.32" lengthAdjust="spacing">bW<tspan font-size="3.4" dy="-1.9">+</tspan><tspan font-size="3.4" dy="1.9"> </tspan> χ<tspan dx="-2.6" dy="-2.5" font-size="4.2">~</tspan><tspan dy="2.5" font-size="1"> </tspan><tspan font-size="3.4" dy="-2.0">0</tspan><tspan font-size="3.4" dy="3.2" dx="-1.9">1</tspan><tspan font-size="3.4" dy="-1.2"> </tspan>,</text>
<text x="257.27" y="297.50" font-size="5.3" font-family="Liberation Sans, sans-serif" fill="#555" textLength="10.23" lengthAdjust="spacing">bτ<tspan font-size="3.4" dy="-1.9">+</tspan><tspan font-size="3.4" dy="1.9"> </tspan>,</text>
<text x="257.27" y="306.30" font-size="5.3" font-family="Liberation Sans, sans-serif" fill="#505050" textLength="39.55" lengthAdjust="spacing">bν<tspan font-size="3.4" dy="0.8">τ</tspan><tspan font-size="3.4" dy="-0.8"> </tspan>  S<tspan dx="-3.0" dy="-3.3" font-size="4.2">~</tspan><tspan dy="3.3" font-size="1"> </tspan><tspan font-size="3.4" dy="-2.0">+</tspan><tspan font-size="3.4" dy="3.2" dx="-1.9">i</tspan><tspan font-size="3.4" dy="-1.2"> </tspan>+ bτ<tspan font-size="3.4" dy="-1.9">+</tspan><tspan font-size="3.4" dy="1.9"> </tspan>S<tspan dx="-3.0" dy="-3.3" font-size="4.2">~</tspan><tspan dy="3.3" font-size="1"> </tspan><tspan font-size="3.4" dy="-2.0">0</tspan><tspan font-size="3.4" dy="3.2" dx="-1.9">i</tspan><tspan font-size="3.4" dy="-1.2"> </tspan>,</text>
<text x="257.27" y="314.80" font-size="5.3" font-family="Liberation Sans, sans-serif" fill="#111" textLength="37.95" lengthAdjust="spacing">bν<tspan font-size="3.4" dy="0.8">e</tspan><tspan font-size="3.4" dy="-0.8"> </tspan>e<tspan dx="-2.7" dy="-2.5" font-size="4.2">~</tspan><tspan dy="2.5" font-size="1"> </tspan><tspan font-size="3.4" dy="-2.0">+</tspan><tspan font-size="3.4" dy="3.2" dx="-1.9">L</tspan><tspan font-size="3.4" dy="-1.2"> </tspan>+ be<tspan font-size="3.4" dy="-1.9">+</tspan><tspan font-size="3.4" dy="1.9"> </tspan>ν<tspan dx="-2.5" dy="-2.5" font-size="4.2">~</tspan><tspan dy="2.5" font-size="1"> </tspan><tspan font-size="3.4" dy="0.8">e</tspan><tspan font-size="3.4" dy="-0.8"> </tspan>,</text>
<text x="257.27" y="323.20" font-size="5.3" font-family="Liberation Sans, sans-serif" fill="#5a5a5a" textLength="10.23" lengthAdjust="spacing">cχ<tspan dx="-2.6" dy="-2.5" font-size="4.2">~</tspan><tspan dy="2.5" font-size="1"> </tspan><tspan font-size="3.4" dy="-2.0">0</tspan><tspan font-size="3.4" dy="3.2" dx="-1.9">1</tspan><tspan font-size="3.4" dy="-1.2"> </tspan>,</text>
<text x="13.05" y="256.90" font-size="6" font-family="Liberation Serif, serif" font-weight="bold" fill="#111" textLength="24.91" lengthAdjust="spacingAndGlyphs">a) Br(t<tspan font-size="4" dy="1.3">1</tspan><tspan dy="-1.3">)</tspan></text>
<line x1="31.68" y1="252.20" x2="34.55" y2="252.20" stroke="#333" stroke-width="0.55"/>
<text x="175.23" y="256.70" font-size="6" font-family="Liberation Serif, serif" font-weight="bold" fill="#111" textLength="25.00" lengthAdjust="spacingAndGlyphs">a) Br(t<tspan font-size="4" dy="1.3">1</tspan><tspan dy="-1.3">)</tspan></text>
<line x1="193.86" y1="252.50" x2="196.73" y2="252.50" stroke="#333" stroke-width="0.55"/>
<text x="139.45" y="376.50" font-size="9.2" font-family="Liberation Serif, serif" font-weight="bold" fill="#111" textLength="12.36" lengthAdjust="spacingAndGlyphs">cos</text>
<text x="152.00" y="376.50" font-size="7.0" font-family="Liberation Serif, serif" font-weight="bold" fill="#111" textLength="4.00" lengthAdjust="spacingAndGlyphs">θ</text>
<text x="157.18" y="378.70" font-size="6.2" font-family="Liberation Serif, serif" font-weight="bold" fill="#111" textLength="2.91" lengthAdjust="spacingAndGlyphs">τ</text>
<line x1="157.09" y1="374.50" x2="160.36" y2="374.50" stroke="#222" stroke-width="0.6"/>
<text x="304.45" y="376.20" font-size="8.8" font-family="Liberation Serif, serif" font-weight="bold" fill="#111" textLength="12.82" lengthAdjust="spacingAndGlyphs">tan</text>
<text x="317.27" y="375.90" font-size="9.6" font-family="Liberation Serif, serif" font-weight="bold" fill="#111" textLength="4.73" lengthAdjust="spacingAndGlyphs">β</text>
</g>
</g>
</svg>
</body></html>
